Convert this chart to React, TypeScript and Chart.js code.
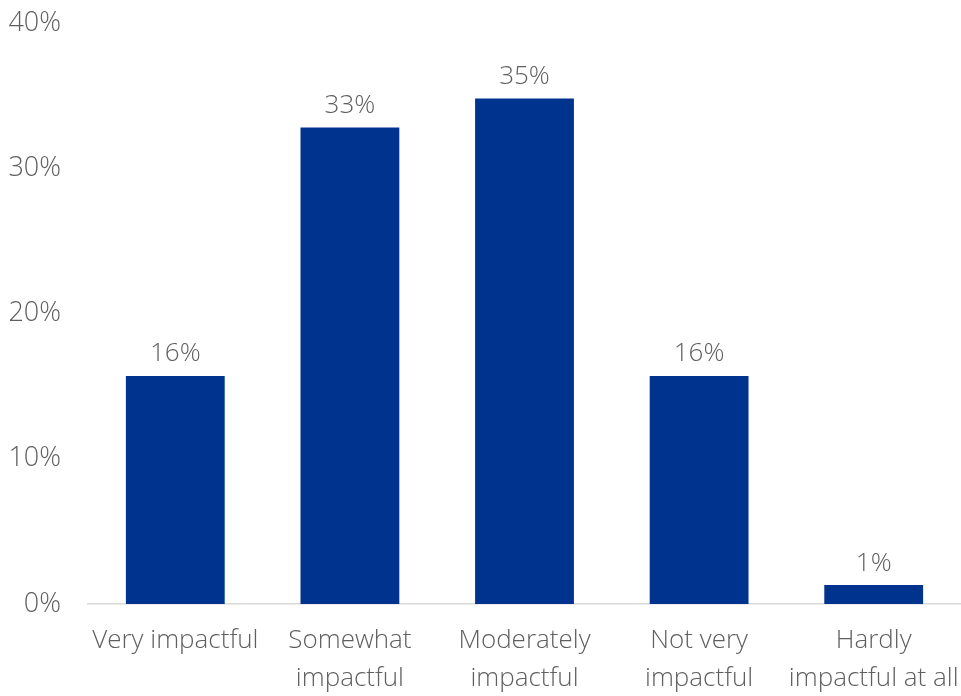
import React, { useEffect, useRef } from "react";
import { Chart, registerables } from "chart.js";

Chart.register(...registerables);

const categories: string[][] = [
  ["Very impactful"],
  ["Somewhat", "impactful"],
  ["Moderately", "impactful"],
  ["Not very", "impactful"],
  ["Hardly", "impactful at all"],
];
const values: number[] = [15.7, 32.8, 34.8, 15.7, 1.3];
const valueLabels: string[] = ["16%", "33%", "35%", "16%", "1%"];
const yTicks: number[] = [0, 10, 20, 30, 40];

const FONT = "'Open Sans', 'Noto Sans', sans-serif";
const TEXT = "#5f5f5f";
const BAR = "#00338D";

const labelPlugin = {
  id: "barValueLabels",
  afterDatasetsDraw(chart: any) {
    const ctx = chart.ctx;
    const meta = chart.getDatasetMeta(0);
    ctx.save();
    ctx.font = `300 26px ${FONT}`;
    ctx.fillStyle = TEXT;
    ctx.textAlign = "center";
    ctx.textBaseline = "bottom";
    meta.data.forEach((bar: any, i: number) => {
      ctx.fillText(valueLabels[i], bar.x, bar.y - 9);
    });
    ctx.restore();
  },
};

export default function App() {
  const ref = useRef<HTMLCanvasElement | null>(null);
  useEffect(() => {
    document.body.style.margin = "0";
    const chart = new Chart(ref.current as HTMLCanvasElement, {
      type: "bar",
      data: {
        labels: categories,
        datasets: [
          {
            data: values,
            backgroundColor: BAR,
            borderWidth: 0,
            categoryPercentage: 1,
            barPercentage: 0.566,
          },
        ],
      },
      options: {
        animation: false,
        responsive: false,
        maintainAspectRatio: false,
        layout: { padding: { top: 23, right: -2, left: 0, bottom: 0 } },
        plugins: {
          legend: { display: false },
          tooltip: { enabled: false },
        },
        scales: {
          x: {
            afterFit(scale: any) {
              scale.height = 92;
              scale.paddingLeft = 0;
              scale.paddingRight = 0;
            },
            grid: { display: false },
            border: { display: true, color: "#D9D9D9", width: 1.5 },
            ticks: {
              color: TEXT,
              font: { family: FONT, size: 26, weight: "300", lineHeight: 1.46 },
              padding: 10,
              maxRotation: 0,
              autoSkip: false,
            },
          },
          y: {
            min: 0,
            max: 40,
            afterFit(scale: any) {
              scale.width = 88;
              scale.paddingTop = 0;
              scale.paddingBottom = 0;
            },
            afterBuildTicks(scale: any) {
              scale.ticks = yTicks.map((v) => ({ value: v }));
            },
            grid: { display: false },
            border: { display: false },
            ticks: {
              color: TEXT,
              font: { family: FONT, size: 27, weight: "300" },
              padding: 19,
              callback: (v: any) => `${v}%`,
            },
          },
        },
      },
      plugins: [labelPlugin],
    });
    return () => chart.destroy();
  }, []);
  return (
    <div style={{ width: 961, height: 696 }}>
      <canvas ref={ref} width={961} height={696} />
    </div>
  );
}
